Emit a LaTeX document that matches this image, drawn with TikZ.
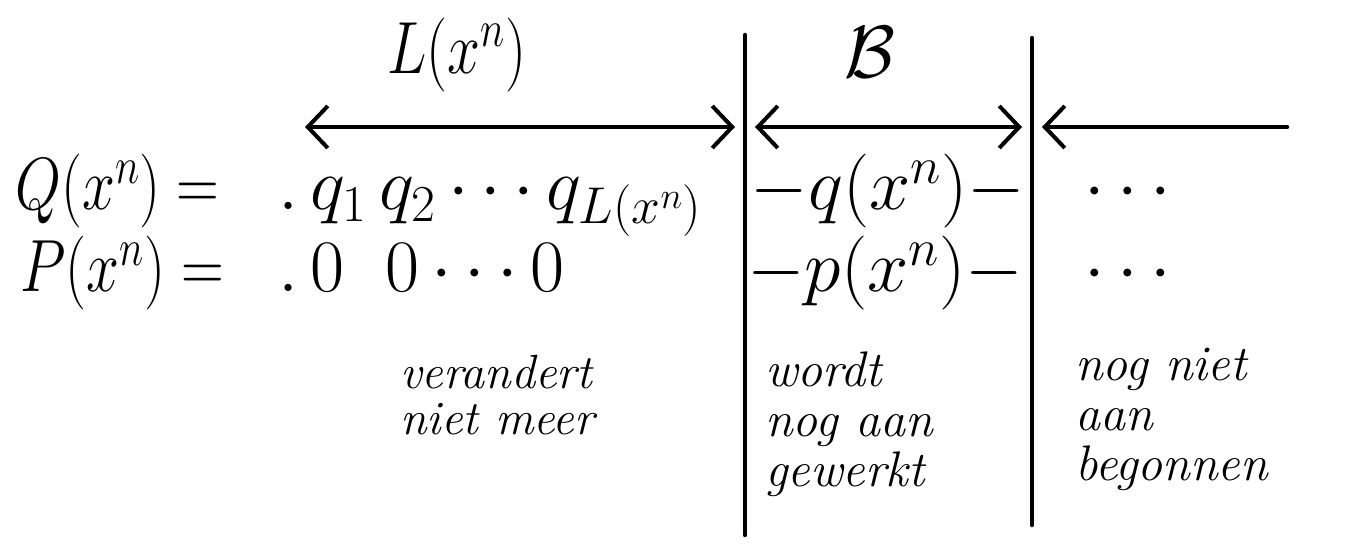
\RequirePackage{fix-cm}
\documentclass[tikz,border=0pt]{standalone}
\usetikzlibrary{arrows.meta}
\tikzset{
  ink/.style={line width=4.5pt, line cap=round, black},
  barb/.tip={Straight Barb[length=20pt,width=42pt,line width=4pt]},
  span/.style={ink, barb-barb},
  formula/.style={inner sep=0pt, font=\fontsize{74}{88}\selectfont},
  note/.style={inner sep=0pt, align=left, font=\fontsize{50}{50}\selectfont\itshape},
}
\newcommand{\narrow}[1]{\scalebox{0.8}[1]{#1}}
\begin{document}
\begin{tikzpicture}[x=1pt,y=-1pt]
\useasboundingbox (0,0) rectangle (1350,553);

% column separators
\coordinate (b1t) at (745,35);
\coordinate (b1b) at (745,535);
\coordinate (b2t) at (1032,38);
\coordinate (b2b) at (1032,525);
\draw[ink] (b1t) -- (b1b);
\draw[ink] (b2t) -- (b2b);

% span arrows
\coordinate (Ls) at (305,127);
\coordinate (Le) at (735,127);
\coordinate (Bs) at (755,127);
\coordinate (Be) at (1022,127);
\coordinate (Rs) at (1042,127);
\coordinate (Re) at (1287,127);
\draw[span] (Ls) -- (Le);
\draw[span] (Bs) -- (Be);
\draw[ink, barb-] (Rs) -- (Re);

% span labels
\node[formula] (lL) at (457,55) {\narrow{$L(x^n)$}};
\node[formula] (lB) at (870,52) {$\mathcal{B}$};

% first row: Q
\node[formula, anchor=base west] (Qlhs) at (15,210) {\narrow{$Q(x^n) =$}};
\node[formula, anchor=base west] (Qseq) at (278,210) {$.\,q_1\,q_2\cdots q_{L(x^n)}$};
\node[formula, anchor=base] (Qmid) at (888,210) {$-q(x^n)-$};
\node[formula, anchor=base] (Qdots) at (1128,210) {$\cdots$};

% second row: P
\node[formula, anchor=base west] (Plhs) at (20,292) {\narrow{$P(x^n) =$}};
\node[formula, anchor=base west] (Pseq) at (278,292) {$.\,0\;\;0\cdots0$};
\node[formula, anchor=base] (Pmid) at (885,292) {$-p(x^n)-$};
\node[formula, anchor=base] (Pdots) at (1128,292) {$\cdots$};

% column notes
\node[note, anchor=north west, font=\fontsize{48}{46}\selectfont\itshape] (n1) at (400,355) {verandert\\niet meer};
\node[note, anchor=north west] (n2) at (765,352) {wordt\\nog aan\\gewerkt};
\node[note, anchor=north west] (n3) at (1075,348) {nog niet\\aan\\begonnen};
\end{tikzpicture}
\end{document}
